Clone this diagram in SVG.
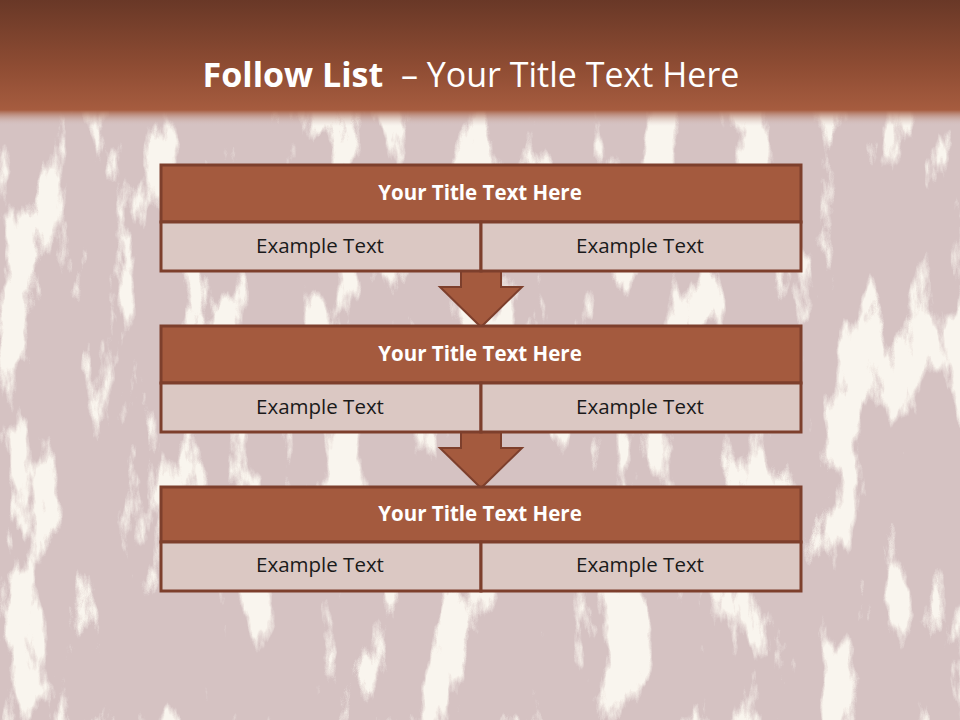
<svg xmlns="http://www.w3.org/2000/svg" width="960" height="720" viewBox="0 0 960 720">
  <defs>
    <linearGradient id="hdr" x1="0" y1="0" x2="0" y2="1">
      <stop offset="0" stop-color="#693827"/>
      <stop offset="0.6" stop-color="#8e4c33"/>
      <stop offset="1" stop-color="#a65c3f"/>
    </linearGradient>
    <linearGradient id="fade" x1="0" y1="0" x2="0" y2="1">
      <stop offset="0" stop-color="#a65c3f" stop-opacity="1"/>
      <stop offset="1" stop-color="#d8c8c8" stop-opacity="0"/>
    </linearGradient>
    <filter id="splat" x="0" y="0" width="100%" height="100%" filterUnits="userSpaceOnUse">
      <feTurbulence type="fractalNoise" baseFrequency="0.022 0.007" numOctaves="6" seed="7" result="n"/>
      <feColorMatrix in="n" type="matrix" values="0 0 0 0 0.95  0 0 0 0 0.91  0 0 0 0 0.85  1 0 0 0 0" result="c"/>
      <feComponentTransfer in="c">
        <feFuncA type="linear" slope="12" intercept="-6.6"/>
      </feComponentTransfer>
    </filter>
    <style>
      .ttl { fill: #a45a3e; stroke: #7d3f2c; stroke-width: 3; }
      .row { fill: #dbc8c3; stroke: #7d3f2c; stroke-width: 3; }
      .arrow { fill: #a45a3e; stroke: #7d3f2c; stroke-width: 2; stroke-linejoin: miter; }
      .bt { font-family: "Open Sans", "Liberation Sans", sans-serif; font-weight: bold; font-size: 20.5px; fill: #ffffff; text-anchor: middle; }
      .et { font-family: "Open Sans", "Liberation Sans", sans-serif; font-size: 20.5px; fill: #1a1a1a; text-anchor: middle; }
      .head { font-family: "Open Sans", "Liberation Sans", sans-serif; font-size: 34px; fill: #ffffff; }
    </style>
  </defs>

  <!-- background -->
  <rect x="0" y="0" width="960" height="720" fill="#d5c2c2"/>
  <rect x="0" y="0" width="960" height="720" fill="#f0e6d9" filter="url(#splat)"/>

  <!-- header band -->
  <rect x="0" y="0" width="960" height="110" fill="url(#hdr)"/>
  <rect x="0" y="110" width="960" height="16" fill="url(#fade)"/>
  <text class="head" x="471" y="87" text-anchor="middle" xml:space="preserve"><tspan font-weight="bold">Follow List</tspan>  – Your Title Text Here</text>

  <!-- connectors -->
  <g id="connectors">
    <polygon class="arrow" points="461,271 501,271 501,287 522,287 481,327 440,287 461,287"/>
    <polygon class="arrow" points="461,432 501,432 501,448 522,448 481,488 440,448 461,448"/>
  </g>

  <g id="box1">
    <rect class="ttl" x="161" y="165" width="640" height="57"/>
    <rect class="row" x="161" y="222" width="320" height="49"/>
    <rect class="row" x="481" y="222" width="320" height="49"/>
    <text class="bt" x="480" y="200">Your Title Text Here</text>
    <text class="et" x="320" y="253">Example Text</text>
    <text class="et" x="640" y="253">Example Text</text>
  </g>

  <g id="box2">
    <rect class="ttl" x="161" y="326" width="640" height="57"/>
    <rect class="row" x="161" y="383" width="320" height="49"/>
    <rect class="row" x="481" y="383" width="320" height="49"/>
    <text class="bt" x="480" y="361">Your Title Text Here</text>
    <text class="et" x="320" y="414">Example Text</text>
    <text class="et" x="640" y="414">Example Text</text>
  </g>

  <g id="box3">
    <rect class="ttl" x="161" y="487" width="640" height="55"/>
    <rect class="row" x="161" y="542" width="320" height="49"/>
    <rect class="row" x="481" y="542" width="320" height="49"/>
    <text class="bt" x="480" y="521">Your Title Text Here</text>
    <text class="et" x="320" y="572">Example Text</text>
    <text class="et" x="640" y="572">Example Text</text>
  </g>
</svg>
